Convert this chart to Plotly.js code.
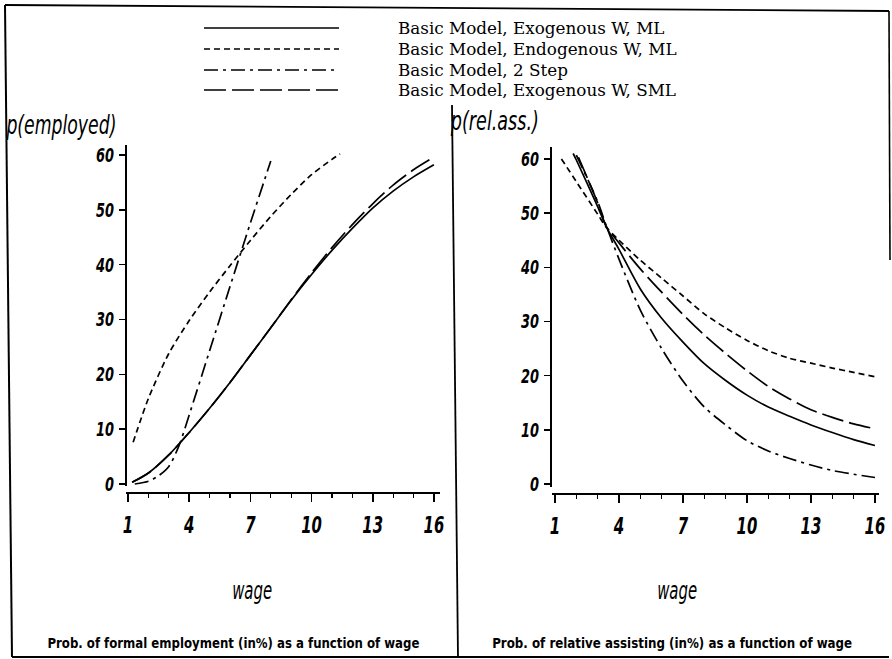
<!DOCTYPE html>
<html>
<head>
<meta charset="utf-8">
<script src="https://cdn.plot.ly/plotly-3.0.1.min.js"></script>
<style>
  html, body { margin: 0; padding: 0; background: #fff; }
  #chart { width: 892px; height: 659px; }
</style>
</head>
<body>
<div id="chart"></div>
<script>
// ---------- data ----------
const seriesNames = [
  "Basic Model, Exogenous W, ML",
  "Basic Model, Endogenous W, ML",
  "Basic Model, 2 Step",
  "Basic Model, Exogenous W, SML"
];

// Left panel: probability of formal employment (%)
const empWageExoML  = [1.2, 2, 3, 4, 5, 6, 7, 8, 9, 10, 11, 12, 13, 14, 15, 16];
const empExoML      = [0.3, 2.0, 5.3, 9.4, 13.8, 18.5, 23.5, 28.5, 33.5, 38.2, 42.6, 46.6, 50.3, 53.4, 56.0, 58.2];
const empWageEndoML = [1.25, 2, 3, 4, 5, 6, 7, 8, 9, 10, 11, 11.4];
const empEndoML     = [7.6, 15.6, 23.8, 29.8, 35.0, 39.8, 44.4, 48.8, 52.8, 56.4, 59.2, 60.2];
const empWage2Step  = [1.33, 2, 2.5, 3, 3.5, 4, 5, 6, 7, 8];
const emp2Step      = [0.0, 0.5, 1.5, 3.2, 7.0, 12.6, 24.3, 36.0, 47.6, 58.9];
const empWageExoSML = [1.2, 2, 3, 4, 5, 6, 7, 8, 9, 10, 11, 12, 13, 14, 15, 16];
const empExoSML     = [0.3, 2.0, 5.3, 9.4, 13.8, 18.5, 23.5, 28.5, 33.6, 38.5, 43.1, 47.3, 51.1, 54.5, 57.3, 59.6];

// Right panel: probability of relative assisting (%)
const relWageExoML  = [1.85, 2, 3, 3.4, 4, 5, 6, 7, 8, 9, 10, 11, 12, 13, 14, 15, 16];
const relExoML      = [61.0, 59.8, 51.2, 47.5, 43.3, 36.0, 30.6, 26.2, 22.2, 19.1, 16.4, 14.2, 12.5, 10.9, 9.5, 8.2, 7.1];
const relWageEndoML = [1.3, 2, 3, 3.4, 4, 5, 6, 7, 8, 9, 10, 11, 12, 13, 14, 15, 16];
const relEndoML     = [60.0, 55.8, 49.8, 47.4, 45.0, 41.3, 38.0, 34.7, 31.4, 28.8, 26.5, 24.6, 23.2, 22.3, 21.4, 20.6, 19.8];
const relWage2Step  = [2.0, 3, 3.4, 4, 5, 6, 7, 8, 9, 10, 11, 12, 13, 14, 15, 16];
const rel2Step      = [60.7, 52.1, 47.7, 41.5, 32.1, 25.0, 19.0, 14.2, 10.9, 8.0, 6.1, 4.7, 3.5, 2.5, 1.8, 1.2];
const relWageExoSML = [2.1, 3, 3.4, 4, 5, 6, 7, 8, 9, 10, 11, 12, 13, 14, 15, 16];
const relExoSML     = [60.3, 51.9, 47.6, 44.5, 39.7, 35.4, 31.3, 27.5, 24.1, 20.9, 18.0, 15.7, 13.7, 12.3, 11.1, 10.2];

const xTickVals = [1, 4, 7, 10, 13, 16];
const yTickVals = [0, 10, 20, 30, 40, 50, 60];

// ---------- styling ----------
const W = 892, H = 659;
const fx = x => x / W;
const fy = y => 1 - y / H;
const dashes = ["solid", "6px,4px", "14px,5px,3px,5px", "22px,6px"];
const LW = 1.7;
const COND = "DejaVu Sans Condensed, DejaVu Sans, sans-serif";

function tr(x, y, k, xa, ya) {
  return {
    x: x, y: y, xaxis: xa, yaxis: ya, type: "scatter", mode: "lines",
    name: seriesNames[k], showlegend: false, hoverinfo: "skip",
    line: { color: "#000", width: LW, dash: dashes[k], shape: "spline", smoothing: 0.8 }
  };
}

const data = [
  tr(empWageExoML, empExoML, 0, "x", "y"),
  tr(empWageEndoML, empEndoML, 1, "x", "y"),
  tr(empWage2Step, emp2Step, 2, "x", "y"),
  tr(empWageExoSML, empExoSML, 3, "x", "y"),
  tr(relWageExoML, relExoML, 0, "x2", "y2"),
  tr(relWageEndoML, relEndoML, 1, "x2", "y2"),
  tr(relWage2Step, rel2Step, 2, "x2", "y2"),
  tr(relWageExoSML, relExoSML, 3, "x2", "y2")
];

const xTickFont = { family: COND, size: 23, color: "#000", weight: "bold", style: "italic" };
const yTickFont = { family: COND, size: 20, color: "#000", weight: "bold", style: "italic" };

function xAxis(domPx, range, posPx) {
  return {
    domain: [fx(domPx[0]), fx(domPx[1])], range: range, anchor: "free", position: fy(posPx),
    showline: true, linecolor: "#000", linewidth: 1.6, showgrid: false, zeroline: false,
    tickmode: "array", tickvals: xTickVals, ticktext: xTickVals.map(String),
    ticks: "outside", ticklen: 8, tickwidth: 1.6, tickcolor: "#000",
    ticklabelstandoff: 4, tickfont: xTickFont,
    minor: { dtick: 1, tick0: 1, ticks: "outside", ticklen: 4, tickwidth: 1.2, tickcolor: "#000", showgrid: false },
    fixedrange: true
  };
}
function yAxis(domPx, range, posPx) {
  return {
    domain: [fy(domPx[0]), fy(domPx[1])], range: range, anchor: "free", position: fx(posPx),
    showline: true, linecolor: "#000", linewidth: 1.6, showgrid: false, zeroline: false,
    tickmode: "array", tickvals: yTickVals, ticktext: yTickVals.map(String),
    ticks: "outside", ticklen: 6, tickwidth: 1.4, tickcolor: "#000",
    ticklabelstandoff: 1, tickfont: yTickFont, fixedrange: true
  };
}

const shapes = [];
// outer frame (scanned page, slightly skewed)
shapes.push({ type: "path", xref: "paper", yref: "paper",
  path: `M ${fx(5)} ${fy(5)} L ${fx(889)} ${fy(11)}`, line: { color: "#000", width: 1.8 } });
shapes.push({ type: "path", xref: "paper", yref: "paper",
  path: `M ${fx(889)} ${fy(11)} L ${fx(890)} ${fy(260)}`, line: { color: "#000", width: 1.6 } });
shapes.push({ type: "path", xref: "paper", yref: "paper",
  path: `M ${fx(5)} ${fy(5)} L ${fx(12)} ${fy(657)}`, line: { color: "#000", width: 2 } });
shapes.push({ type: "path", xref: "paper", yref: "paper",
  path: `M ${fx(12)} ${fy(657)} L ${fx(889)} ${fy(657)}`, line: { color: "#000", width: 1.8 } });
// panel divider
shapes.push({ type: "path", xref: "paper", yref: "paper",
  path: `M ${fx(452)} ${fy(105)} L ${fx(458)} ${fy(657)}`, line: { color: "#000", width: 1.8 } });

// legend samples
const legendRows = [28, 49, 70, 90];
legendRows.forEach((yy, k) => {
  shapes.push({ type: "line", xref: "paper", yref: "paper",
    x0: fx(204), x1: fx(339), y0: fy(yy), y1: fy(yy),
    line: { color: "#000", width: LW, dash: dashes[k] } });
});

const annotations = [];
legendRows.forEach((yy, k) => {
  annotations.push({ xref: "paper", yref: "paper", x: fx(396), y: fy(yy), xanchor: "left", yanchor: "middle",
    text: seriesNames[k], showarrow: false,
    font: { family: "DejaVu Serif, serif", size: 16.8, color: "#000" } });
});
const titleFont = { family: COND, size: 27, color: "#000", style: "italic" };
annotations.push({ xref: "paper", yref: "paper", x: fx(61), y: fy(124), xanchor: "center", yanchor: "middle",
  text: "p(employed)", showarrow: false, font: titleFont });
annotations.push({ xref: "paper", yref: "paper", x: fx(494), y: fy(120), xanchor: "center", yanchor: "middle",
  text: "p(rel.ass.)", showarrow: false, font: titleFont });
const wageFont = { family: COND, size: 25, color: "#000", style: "italic" };
annotations.push({ xref: "paper", yref: "paper", x: fx(252), y: fy(590), xanchor: "center", yanchor: "middle",
  text: "wage", showarrow: false, font: wageFont });
annotations.push({ xref: "paper", yref: "paper", x: fx(677), y: fy(590), xanchor: "center", yanchor: "middle",
  text: "wage", showarrow: false, font: wageFont });
const capFont = { family: COND, size: 14, color: "#000", weight: "bold" };
annotations.push({ xref: "paper", yref: "paper", x: fx(234), y: fy(643), xanchor: "center", yanchor: "middle",
  text: "Prob. of formal employment (in%) as a function of wage", showarrow: false, font: capFont });
annotations.push({ xref: "paper", yref: "paper", x: fx(672), y: fy(643), xanchor: "center", yanchor: "middle",
  text: "Prob. of relative assisting (in%) as a function of wage", showarrow: false, font: capFont });

const layout = {
  width: W, height: H,
  margin: { l: 0, r: 0, t: 0, b: 0, pad: 0 },
  paper_bgcolor: "#fff", plot_bgcolor: "rgba(0,0,0,0)",
  showlegend: false,
  xaxis:  xAxis([126, 440], [0.9, 16.3], 492),
  yaxis:  yAxis([486, 145], [-0.365, 61.82], 125),
  xaxis2: xAxis([552, 879], [0.859, 16.19], 493),
  yaxis2: yAxis([487, 147], [-0.554, 62.2], 550),
  shapes: shapes,
  annotations: annotations
};

// The original uses very narrow (condensed) typefaces; squeeze the real text
// horizontally so that it keeps its height but takes the original's width.
const targetWidths = {
  "Prob. of formal employment (in%) as a function of wage": 372,
  "Prob. of relative assisting (in%) as a function of wage": 360,
  "p(employed)": 110,
  "p(rel.ass.)": 88,
  "wage": 40
};
function squeeze(el, w) {
  el.setAttribute("lengthAdjust", "spacingAndGlyphs");
  el.setAttribute("textLength", w);
}

Plotly.newPlot("chart", data, layout, { staticPlot: true, displayModeBar: false }).then(gd => {
  gd.querySelectorAll("text.annotation-text").forEach(el => {
    const t = el.textContent;
    if (targetWidths[t] !== undefined) squeeze(el, targetWidths[t]);
  });
  gd.querySelectorAll(".xtick text, .x2tick text, .ytick text, .y2tick text").forEach(el => {
    const L = el.getComputedTextLength();
    squeeze(el, (L * 0.72).toFixed(1));
  });
});
</script>
</body>
</html>
